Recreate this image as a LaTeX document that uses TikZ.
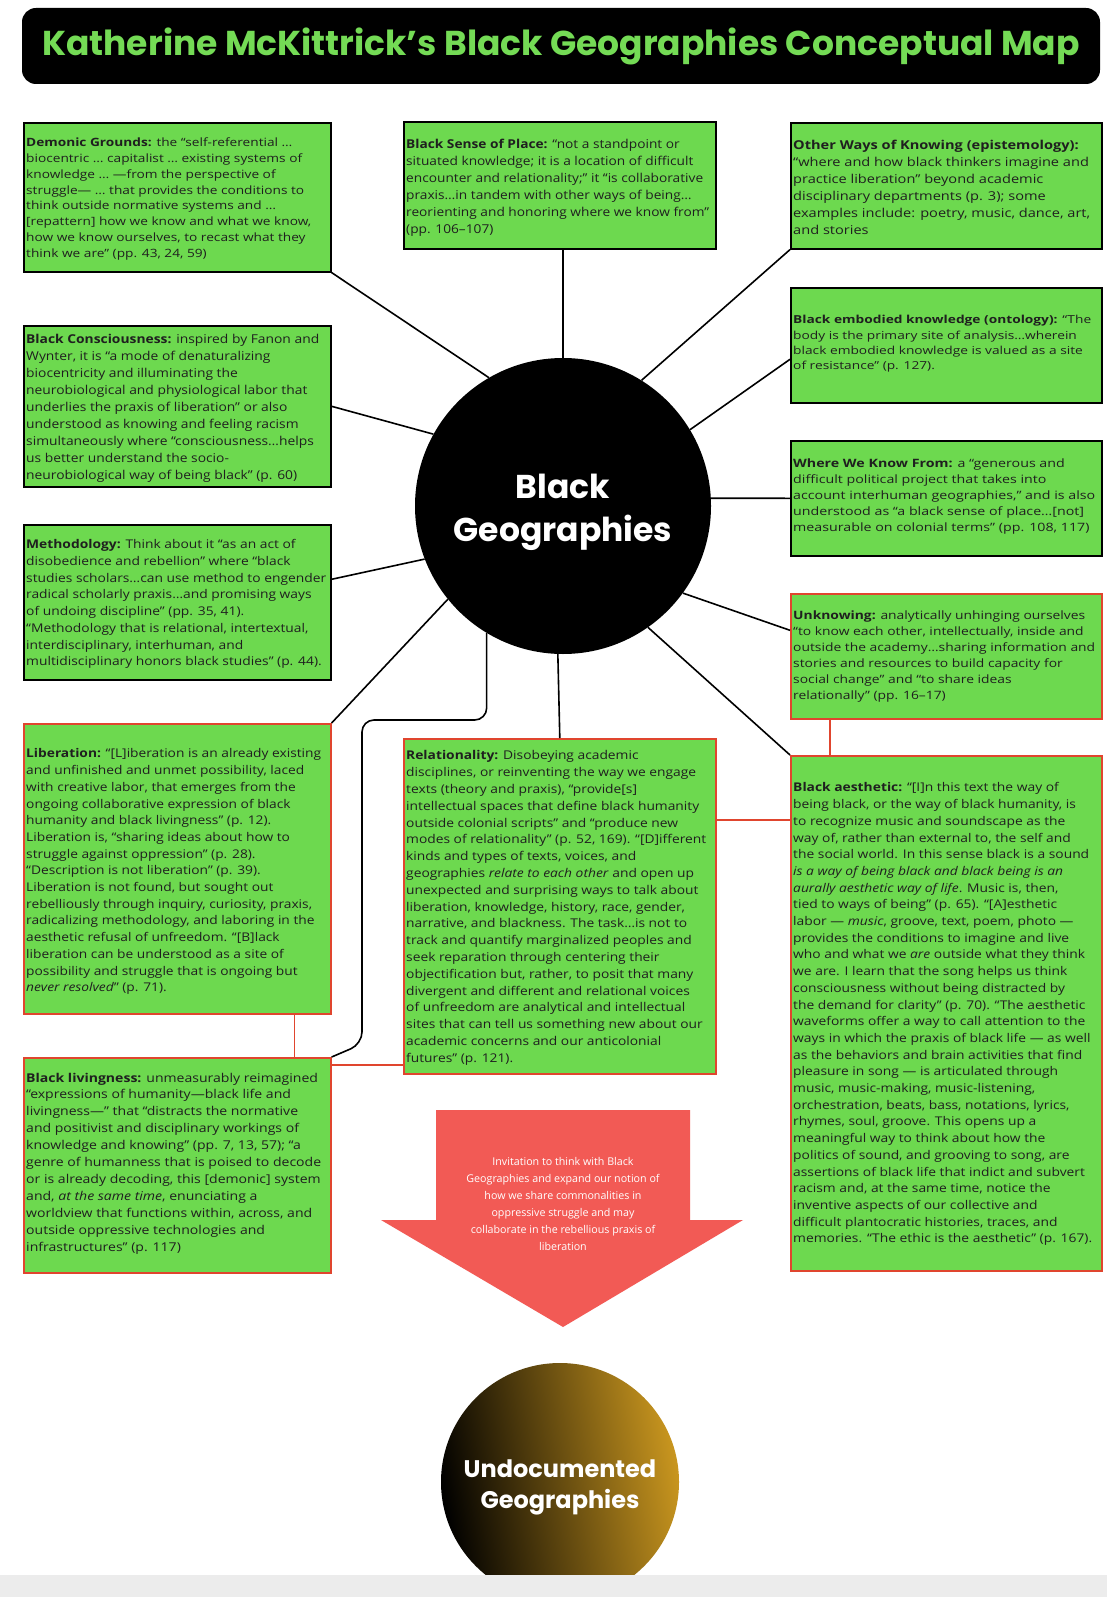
\documentclass[tikz,border=0pt]{standalone}
\usepackage{fontspec}
\setmainfont{Poppins}
\newfontfamily\bodyfont{Open Sans}
\usetikzlibrary{calc}
\definecolor{bgreen}{HTML}{6DD94F}
\definecolor{tgreen}{HTML}{74DB55}
\definecolor{bred}{HTML}{E0452E}
\definecolor{arrowred}{HTML}{F25A55}
\definecolor{ugold}{HTML}{C9961F}
\definecolor{bandgray}{HTML}{ECECEC}
\newcommand{\boxtext}[3]{\resizebox*{#1}{#2}{\begin{tabular}{@{}l@{}}#3\end{tabular}}}
\begin{document}
\begin{tikzpicture}[x=1pt,y=-1pt,
  gbox/.style={draw=black, line width=1.6pt, fill=bgreen, inner sep=0pt, anchor=north west},
  rbox/.style={gbox, draw=bred},
  btxt/.style={inner sep=0pt, align=left, anchor=north west, text=black!88, font=\bodyfont\fontsize{12}{16.7}\selectfont},
  link/.style={line width=1.6pt, black},
  rlink/.style={line width=1.6pt, bred},
]
\useasboundingbox[fill=white] (0,0) rectangle (1107,1597);

% title
\node[fill=black, rounded corners=14pt, minimum width=1078pt, minimum height=76pt, inner sep=0pt,
      text=tgreen, font=\fontsize{34.5}{40}\selectfont\bfseries] (title) at (561,46)
  {Katherine McKittrick’s Black Geographies Conceptual Map};

% central circle
\node[circle, fill=black, minimum size=296pt, inner sep=0pt] (bg) at (563,506) {};
\node[inner sep=0pt, text=white, align=center, font=\fontsize{33}{43}\selectfont\bfseries] (bgt) at (563,512) {Black\\Geographies};

% boxes
\node[gbox, minimum width=307pt, minimum height=149pt] (dg) at (23,122) {};
\node[gbox, minimum width=312pt, minimum height=127pt] (bsp) at (403,121) {};
\node[gbox, minimum width=311pt, minimum height=126pt] (owk) at (790,122) {};
\node[gbox, minimum width=307pt, minimum height=161pt] (bc) at (23,325) {};
\node[gbox, minimum width=311pt, minimum height=115pt] (bek) at (790,287) {};
\node[gbox, minimum width=311pt, minimum height=115pt] (wwk) at (790,440) {};
\node[gbox, minimum width=307pt, minimum height=155pt] (meth) at (23,524) {};
\node[rbox, minimum width=311pt, minimum height=125pt] (unk) at (790,593) {};
\node[rbox, minimum width=307pt, minimum height=290pt] (lib) at (23,723) {};
\node[rbox, minimum width=312pt, minimum height=335pt] (rel) at (403,738) {};
\node[rbox, minimum width=311pt, minimum height=515pt] (ba) at (790,755) {};
\node[rbox, minimum width=307pt, minimum height=215pt] (bl) at (23,1057) {};

% texts
\node[btxt] (dgt) at ([xshift=3pt,yshift=-13pt]dg.north west) {\boxtext{285pt}{127.2pt}{%
\textbf{Demonic Grounds:} the “self-referential …\\
biocentric … capitalist … existing systems of\\
knowledge … —from the perspective of\\
struggle— … that provides the conditions to\\
think outside normative systems and …\\
{[}repattern{]} how we know and what we know,\\
how we know ourselves, to recast what they\\
think we are” (pp. 43, 24, 59)}};

\node[btxt] (bspt) at ([xshift=3pt,yshift=-15pt]bsp.north west) {\boxtext{303pt}{102pt}{%
\textbf{Black Sense of Place:} “not a standpoint or\\
situated knowledge; it is a location of difficult\\
encounter and relationality;” it “is collaborative\\
praxis…in tandem with other ways of being…\\
reorienting and honoring where we know from”\\
(pp. 106–107)}};

\node[btxt] (owkt) at ([xshift=3pt,yshift=-15pt]owk.north west) {\boxtext{297pt}{102pt}{%
\textbf{Other Ways of Knowing (epistemology):}\\
“where and how black thinkers imagine and\\
practice liberation” beyond academic\\
disciplinary departments (p. 3); some\\
examples include: poetry, music, dance, art,\\
and stories}};

\node[btxt] (bct) at ([xshift=3pt,yshift=-6pt]bc.north west) {\boxtext{293pt}{153pt}{%
\textbf{Black Consciousness:} inspired by Fanon and\\
Wynter, it is “a mode of denaturalizing\\
biocentricity and illuminating the\\
neurobiological and physiological labor that\\
underlies the praxis of liberation” or also\\
understood as knowing and feeling racism\\
simultaneously where “consciousness…helps\\
us better understand the socio-\\
neurobiological way of being black” (p. 60)}};

\node[btxt] (bekt) at ([xshift=3pt,yshift=-26pt]bek.north west) {\boxtext{298pt}{61.2pt}{%
\textbf{Black embodied knowledge (ontology):} “The\\
body is the primary site of analysis…wherein\\
black embodied knowledge is valued as a site\\
of resistance” (p. 127).}};

\node[btxt] (wwkt) at ([xshift=3pt,yshift=-16pt]wwk.north west) {\boxtext{302pt}{80pt}{%
\textbf{Where We Know From:} a “generous and\\
difficult political project that takes into\\
account interhuman geographies,” and is also\\
understood as “a black sense of place…{[}not{]}\\
measurable on colonial terms” (pp. 108, 117)}};

\node[btxt] (metht) at ([xshift=3pt,yshift=-13pt]meth.north west) {\boxtext{300pt}{133.6pt}{%
\textbf{Methodology:} Think about it “as an act of\\
disobedience and rebellion” where “black\\
studies scholars…can use method to engender\\
radical scholarly praxis…and promising ways\\
of undoing discipline” (pp. 35, 41).\\
“Methodology that is relational, intertextual,\\
interdisciplinary, interhuman, and\\
multidisciplinary honors black studies” (p. 44).}};

\node[btxt] (unkt) at ([xshift=3pt,yshift=-15pt]unk.north west) {\boxtext{302pt}{96pt}{%
\textbf{Unknowing:} analytically unhinging ourselves\\
“to know each other, intellectually, inside and\\
outside the academy…sharing information and\\
stories and resources to build capacity for\\
social change” and “to share ideas\\
relationally” (pp. 16–17)}};

\node[btxt] (libt) at ([xshift=3pt,yshift=-23pt]lib.north west) {\boxtext{295pt}{250.5pt}{%
\textbf{Liberation:} “{[}L{]}iberation is an already existing\\
and unfinished and unmet possibility, laced\\
with creative labor, that emerges from the\\
ongoing collaborative expression of black\\
humanity and black livingness” (p. 12).\\
Liberation is, “sharing ideas about how to\\
struggle against oppression” (p. 28).\\
“Description is not liberation” (p. 39).\\
Liberation is not found, but sought out\\
rebelliously through inquiry, curiosity, praxis,\\
radicalizing methodology, and laboring in the\\
aesthetic refusal of unfreedom. “{[}B{]}lack\\
liberation can be understood as a site of\\
possibility and struggle that is ongoing but\\
\textit{never resolved}” (p. 71).}};

\node[btxt] (relt) at ([xshift=3pt,yshift=-10pt]rel.north west) {\boxtext{300pt}{319.2pt}{%
\textbf{Relationality:} Disobeying academic\\
disciplines, or reinventing the way we engage\\
texts (theory and praxis), “provide{[}s{]}\\
intellectual spaces that define black humanity\\
outside colonial scripts” and “produce new\\
modes of relationality” (p. 52, 169). “{[}D{]}ifferent\\
kinds and types of texts, voices, and\\
geographies \textit{relate to each other} and open up\\
unexpected and surprising ways to talk about\\
liberation, knowledge, history, race, gender,\\
narrative, and blackness. The task…is not to\\
track and quantify marginalized peoples and\\
seek reparation through centering their\\
objectification but, rather, to posit that many\\
divergent and different and relational voices\\
of unfreedom are analytical and intellectual\\
sites that can tell us something new about our\\
academic concerns and our anticolonial\\
futures” (p. 121).}};

\node[btxt] (bat) at ([xshift=3pt,yshift=-25pt]ba.north west) {\boxtext{299pt}{467.6pt}{%
\textbf{Black aesthetic:} “{[}I{]}n this text the way of\\
being black, or the way of black humanity, is\\
to recognize music and soundscape as the\\
way of, rather than external to, the self and\\
the social world. In this sense black is a sound\\
\textit{is a way of being black and black being is an}\\
\textit{aurally aesthetic way of life}. Music is, then,\\
tied to ways of being” (p. 65). “{[}A{]}esthetic\\
labor — \textit{music}, groove, text, poem, photo —\\
provides the conditions to imagine and live\\
who and what we \textit{are} outside what they think\\
we are. I learn that the song helps us think\\
consciousness without being distracted by\\
the demand for clarity” (p. 70). “The aesthetic\\
waveforms offer a way to call attention to the\\
ways in which the praxis of black life — as well\\
as the behaviors and brain activities that find\\
pleasure in song — is articulated through\\
music, music-making, music-listening,\\
orchestration, beats, bass, notations, lyrics,\\
rhymes, soul, groove. This opens up a\\
meaningful way to think about how the\\
politics of sound, and grooving to song, are\\
assertions of black life that indict and subvert\\
racism and, at the same time, notice the\\
inventive aspects of our collective and\\
difficult plantocratic histories, traces, and\\
memories. “The ethic is the aesthetic” (p. 167).}};

\node[btxt] (blt) at ([xshift=3pt,yshift=-13pt]bl.north west) {\boxtext{295pt}{185.9pt}{%
\textbf{Black livingness:} unmeasurably reimagined\\
“expressions of humanity—black life and\\
livingness—” that “distracts the normative\\
and positivist and disciplinary workings of\\
knowledge and knowing” (pp. 7, 13, 57); “a\\
genre of humanness that is poised to decode\\
or is already decoding, this {[}demonic{]} system\\
and, \textit{at the same time}, enunciating a\\
worldview that functions within, across, and\\
outside oppressive technologies and\\
infrastructures” (p. 117)}};

% black connectors
\draw[link] (dg.south east) -- (bg.120);
\draw[link] (bsp.south -| bg.north) -- (bg.north);
\draw[link] (owk.south west) -- (bg.58);
\draw[link] (bc.east) -- (bg.151);
\draw[link] ([yshift=-14pt]bek.west) -- (bg.31);
\draw[link] (wwk.west) -- (bg.3);
\draw[link] ([yshift=23pt]meth.east) -- (bg.201);
\draw[link] ([yshift=26pt]unk.west) -- (bg.-36);
\draw[link] (lib.north east) -- (bg.219);
\draw[link] (rel.north) -- (bg.268);
\draw[link] (ba.north west) -- (bg.-55);
\coordinate (lcA) at (362,720);
\coordinate (lcB) at (362,1044);
\draw[link, rounded corners=12pt] (bg.239) -- (bg.239 |- lcA) -- (lcA) -- (lcB) -- (bl.north east);

% red connectors
\draw[rlink] ([xshift=40pt]unk.south west) -- ([xshift=40pt]unk.south west |- ba.north);
\draw[rlink] ([xshift=-37pt]lib.south east) -- ([xshift=-37pt]lib.south east |- bl.north);
\draw[rlink] ([yshift=-82pt]rel.north east) -- ([yshift=-82pt]rel.north east -| ba.west);
\draw[rlink] ([yshift=-8pt]bl.north east) -- ([yshift=-8pt]bl.north east -| rel.west);

% arrow
\fill[arrowred] (436,1110) -- (690,1110) -- (690,1220) -- (743,1220) -- (563,1327)
  -- (381,1220) -- (436,1220) -- cycle;
\node[inner sep=0pt, align=center, text=white, font=\bodyfont\fontsize{10.7}{17}\selectfont] (arrtxt) at (563,1204) {%
Invitation to think with Black\\
Geographies and expand our notion of\\
how we share commonalities in\\
oppressive struggle and may\\
collaborate in the rebellious praxis of\\
liberation};

% bottom circle
\node[circle, minimum size=238pt, inner sep=0pt, left color=black, right color=ugold,
      shading angle=100] (ug) at (560,1482) {};
\node[inner sep=0pt, text=white, align=center, font=\fontsize{24}{31}\selectfont\bfseries] (ugt) at (560,1487) {Undocumented\\Geographies};
\fill[bandgray] (0,1575) rectangle (1107,1597);
\end{tikzpicture}
\end{document}
